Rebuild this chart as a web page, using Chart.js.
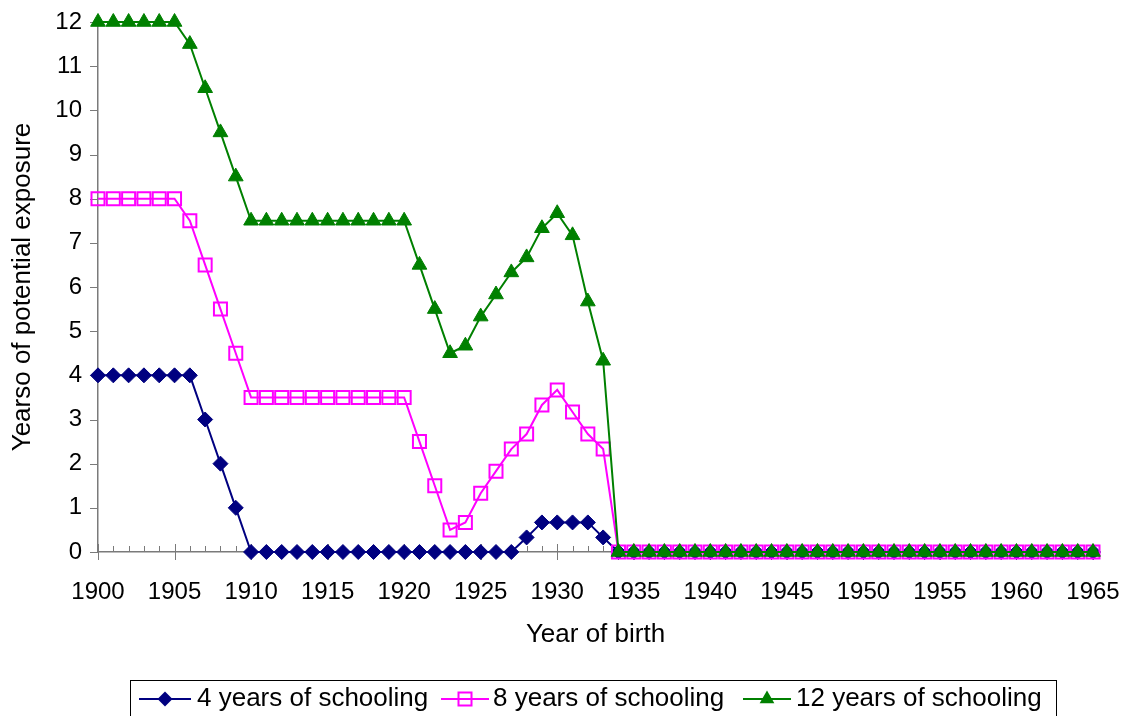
<!DOCTYPE html>
<html>
<head>
<meta charset="utf-8">
<script src="https://cdn.jsdelivr.net/npm/chart.js@4/dist/chart.umd.min.js"></script>
<style>
html,body{margin:0;padding:0;background:#fff;}
canvas{display:block;}
</style>
</head>
<body>
<canvas id="c" width="1126" height="716"></canvas>
<script>
const years = ["1900","1901","1902","1903","1904","1905","1906","1907","1908","1909",
"1910","1911","1912","1913","1914","1915","1916","1917","1918","1919",
"1920","1921","1922","1923","1924","1925","1926","1927","1928","1929",
"1930","1931","1932","1933","1934","1935","1936","1937","1938","1939",
"1940","1941","1942","1943","1944","1945","1946","1947","1948","1949",
"1950","1951","1952","1953","1954","1955","1956","1957","1958","1959",
"1960","1961","1962","1963","1964","1965"];

const fourYears = [4,4,4,4,4,4,4,3,2,1,
0,0,0,0,0,0,0,0,0,0,
0,0,0,0,0,0,0,0,0.33,0.67,
0.67,0.67,0.67,0.33,0,0,0,0,0,0,
0,0,0,0,0,0,0,0,0,0,
0,0,0,0,0,0,0,0,0,0,
0,0,0,0,0,0];

const eightYears = [8,8,8,8,8,8,7.5,6.5,5.5,4.5,
3.5,3.5,3.5,3.5,3.5,3.5,3.5,3.5,3.5,3.5,
3.5,2.5,1.5,0.5,0.67,1.33,1.83,2.33,2.67,3.33,
3.67,3.17,2.67,2.33,0,0,0,0,0,0,
0,0,0,0,0,0,0,0,0,0,
0,0,0,0,0,0,0,0,0,0,
0,0,0,0,0,0];

const twelveYears = [12,12,12,12,12,12,11.5,10.5,9.5,8.5,
7.5,7.5,7.5,7.5,7.5,7.5,7.5,7.5,7.5,7.5,
7.5,6.5,5.5,4.5,4.67,5.33,5.83,6.33,6.67,7.33,
7.67,7.17,5.67,4.33,0,0,0,0,0,0,
0,0,0,0,0,0,0,0,0,0,
0,0,0,0,0,0,0,0,0,0,
0,0,0,0,0,0];

const seriesNames = ["4 years of schooling","8 years of schooling","12 years of schooling"];
const yTicks = [0,1,2,3,4,5,6,7,8,9,10,11,12];

Chart.defaults.color = '#000';
Chart.defaults.font.family = '"Liberation Sans", Arial, sans-serif';

const AXIS_COLOR = '#7a7a7a';

const tickPlugin = {
  id: 'excelTicks',
  beforeDatasetsDraw(chart) {
    const ctx = chart.ctx;
    const xs = chart.scales.x, ys = chart.scales.y;
    const y0 = ys.getPixelForValue(0);
    ctx.save();
    ctx.strokeStyle = AXIS_COLOR;
    ctx.lineWidth = 1;
    ctx.beginPath();
    years.forEach((yr, i) => {
      const px = Math.round(xs.getPixelForValue(i)) + 0.5;
      if (Number(yr) % 5 === 0) {
        ctx.moveTo(px, y0 - 8);
        ctx.lineTo(px, y0 + 8);
      } else {
        ctx.moveTo(px, y0 - 6);
        ctx.lineTo(px, y0);
      }
    });
    const ax = xs.left;
    yTicks.forEach(v => {
      const py = Math.round(ys.getPixelForValue(v)) + 0.5;
      ctx.moveTo(ax - 8, py);
      ctx.lineTo(ax, py);
    });
    ctx.stroke();
    ctx.restore();
  }
};

function drawMarker(ctx, style, x, y, color) {
  ctx.save();
  if (style === 'rectRot') {
    const r = 7.5;
    ctx.fillStyle = color;
    ctx.beginPath();
    ctx.moveTo(x, y - r); ctx.lineTo(x + r, y); ctx.lineTo(x, y + r); ctx.lineTo(x - r, y);
    ctx.closePath(); ctx.fill();
  } else if (style === 'rect') {
    const h = 6.5;
    ctx.strokeStyle = color; ctx.lineWidth = 2;
    ctx.strokeRect(x - h, y - h, 2 * h, 2 * h);
  } else if (style === 'triangle') {
    const r = 8.5;
    ctx.fillStyle = color;
    ctx.beginPath();
    ctx.moveTo(x, y - r);
    ctx.lineTo(x + r * Math.sin(2 * Math.PI / 3), y - r * Math.cos(2 * Math.PI / 3));
    ctx.lineTo(x + r * Math.sin(4 * Math.PI / 3), y - r * Math.cos(4 * Math.PI / 3));
    ctx.closePath(); ctx.fill();
  }
  ctx.restore();
}

const legendPlugin = {
  id: 'excelLegend',
  afterDraw(chart) {
    const ctx = chart.ctx;
    ctx.save();
    ctx.strokeStyle = '#000';
    ctx.lineWidth = 1;
    ctx.strokeRect(130.5, 680.5, 926, 60);
    const items = [
      {x0: 139, x1: 191, tx: 197},
      {x0: 441, x1: 489, tx: 493},
      {x0: 743, x1: 791, tx: 796}
    ];
    const ly = 699;
    chart.data.datasets.forEach((ds, i) => {
      const it = items[i];
      ctx.strokeStyle = ds.borderColor;
      ctx.lineWidth = 2;
      ctx.beginPath();
      ctx.moveTo(it.x0, ly); ctx.lineTo(it.x1, ly);
      ctx.stroke();
      drawMarker(ctx, ds.pointStyle, (it.x0 + it.x1) / 2, ly, ds.borderColor);
      ctx.fillStyle = '#000';
      ctx.font = '26px "Liberation Sans", Arial, sans-serif';
      ctx.textBaseline = 'middle';
      ctx.textAlign = 'left';
      ctx.fillText(ds.label, it.tx, ly);
    });
    ctx.restore();
  }
};

new Chart(document.getElementById('c'), {
  type: 'line',
  data: {
    labels: years,
    datasets: [
      {
        label: seriesNames[0], data: fourYears, order: 3, clip: false,
        borderColor: '#000080', backgroundColor: '#000080',
        borderWidth: 2, tension: 0,
        pointStyle: 'rectRot', pointRadius: 7.5,
        pointBackgroundColor: '#000080', pointBorderColor: '#000080', pointBorderWidth: 1
      },
      {
        label: seriesNames[1], data: eightYears, order: 2, clip: false,
        borderColor: '#FF00FF', backgroundColor: 'rgba(0,0,0,0)',
        borderWidth: 2, tension: 0,
        pointStyle: 'rect', pointRadius: 9.2,
        pointBackgroundColor: 'rgba(0,0,0,0)', pointBorderColor: '#FF00FF', pointBorderWidth: 2
      },
      {
        label: seriesNames[2], data: twelveYears, order: 1, clip: false,
        borderColor: '#008000', backgroundColor: '#008000',
        borderWidth: 2, tension: 0,
        pointStyle: 'triangle', pointRadius: 8.5,
        pointBackgroundColor: '#008000', pointBorderColor: '#008000', pointBorderWidth: 1
      }
    ]
  },
  options: {
    responsive: false,
    animation: false,
    devicePixelRatio: 1,
    layout: { padding: { left: 0, top: 22, right: 33, bottom: 0 } },
    plugins: { legend: { display: false }, tooltip: { enabled: false } },
    scales: {
      x: {
        type: 'category',
        offset: false,
        grid: { display: false },
        border: { display: true, color: AXIS_COLOR, width: 1.5 },
        ticks: {
          autoSkip: false, maxRotation: 0, minRotation: 0, padding: 18,
          font: { size: 24 },
          callback: function(v, i) { const y = years[i]; return Number(y) % 5 === 0 ? y : ''; }
        },
        title: {
          display: true, text: 'Year of birth',
          font: { size: 26 }, padding: { top: 0, bottom: 66 }
        },
        afterFit(s) { s.height = 164; s.paddingLeft = 0; s.paddingRight = 0; }
      },
      y: {
        min: 0, max: 12,
        grid: { display: false },
        border: { display: true, color: AXIS_COLOR, width: 1.5 },
        ticks: { stepSize: 1, padding: 8, font: { size: 24 } },
        title: {
          display: true, text: 'Yearso of potential exposure',
          font: { size: 26 }, padding: { top: 7, bottom: 0 }
        },
        afterFit(s) { s.width = 98; s.paddingTop = 0; s.paddingBottom = 0; }
      }
    }
  },
  plugins: [tickPlugin, legendPlugin]
});
</script>
</body>
</html>
